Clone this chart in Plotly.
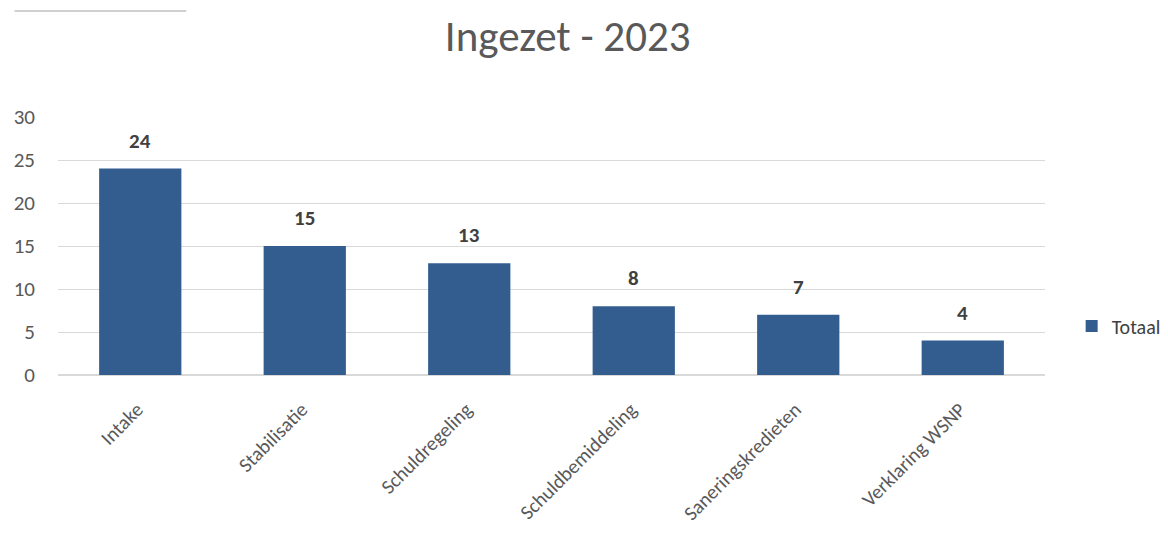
import plotly.graph_objects as go

categories = ["Intake", "Stabilisatie", "Schuldregeling", "Schuldbemiddeling", "Saneringskredieten", "Verklaring WSNP"]
values = [24, 15, 13, 8, 7, 4]
series_name = "Totaal"
title_text = "Ingezet - 2023"
y_ticks = [0, 5, 10, 15, 20, 25, 30]

FONT = "Calibri, Carlito, Lato, 'Open Sans', sans-serif"

fig = go.Figure()
fig.add_trace(go.Bar(
    x=categories, y=values, name=series_name,
    marker=dict(color="#335C8F", line=dict(width=0)),
    width=0.5,
    cliponaxis=False,
))

annotations = [
    dict(x=c, y=v, xref="x", yref="y", text=str(v), showarrow=False,
         yanchor="bottom", yshift=13,
         font=dict(family=FONT, size=21, color="#404040", weight="bold"))
    for c, v in zip(categories, values)
]

fig.update_layout(
    width=1160, height=529,
    paper_bgcolor="white", plot_bgcolor="white",
    margin=dict(l=50, r=123, t=109, b=162, autoexpand=False),
    title=dict(text=title_text, x=0.4825, xanchor="center", y=0.947, yanchor="middle",
               font=dict(family=FONT, size=43, color="#595959")),
    font=dict(family=FONT, color="#595959"),
    showlegend=True,
    legend=dict(x=1.027, y=0.19, xanchor="left", yanchor="middle",
                font=dict(family=FONT, size=20, color="#404040"),
                itemwidth=30, bgcolor="rgba(0,0,0,0)"),
    bargap=0.5,
    annotations=annotations,
    xaxis=dict(tickangle=-45, tickfont=dict(family=FONT, size=20, color="#595959"),
               showgrid=False, showline=True, linecolor="#D9D9D9", linewidth=1,
               ticks="", ticklabelstandoff=14, ticklabelshift=-3, automargin=False),
    yaxis=dict(range=[0, 30], tickvals=y_ticks, tickfont=dict(family=FONT, size=21, color="#595959"),
               showgrid=True, gridcolor="#D9D9D9", gridwidth=1, zeroline=True,
               zerolinecolor="#D9D9D9", ticklabelstandoff=22, showline=False, automargin=False),
    shapes=[dict(type="line", xref="paper", yref="paper", x0=-0.044, x1=0.13,
                 y0=1 + (117 - 11) / 258, y1=1 + (117 - 11) / 258,
                 line=dict(color="#D0D0D0", width=2))],
)

fig.write_html("out.html")
